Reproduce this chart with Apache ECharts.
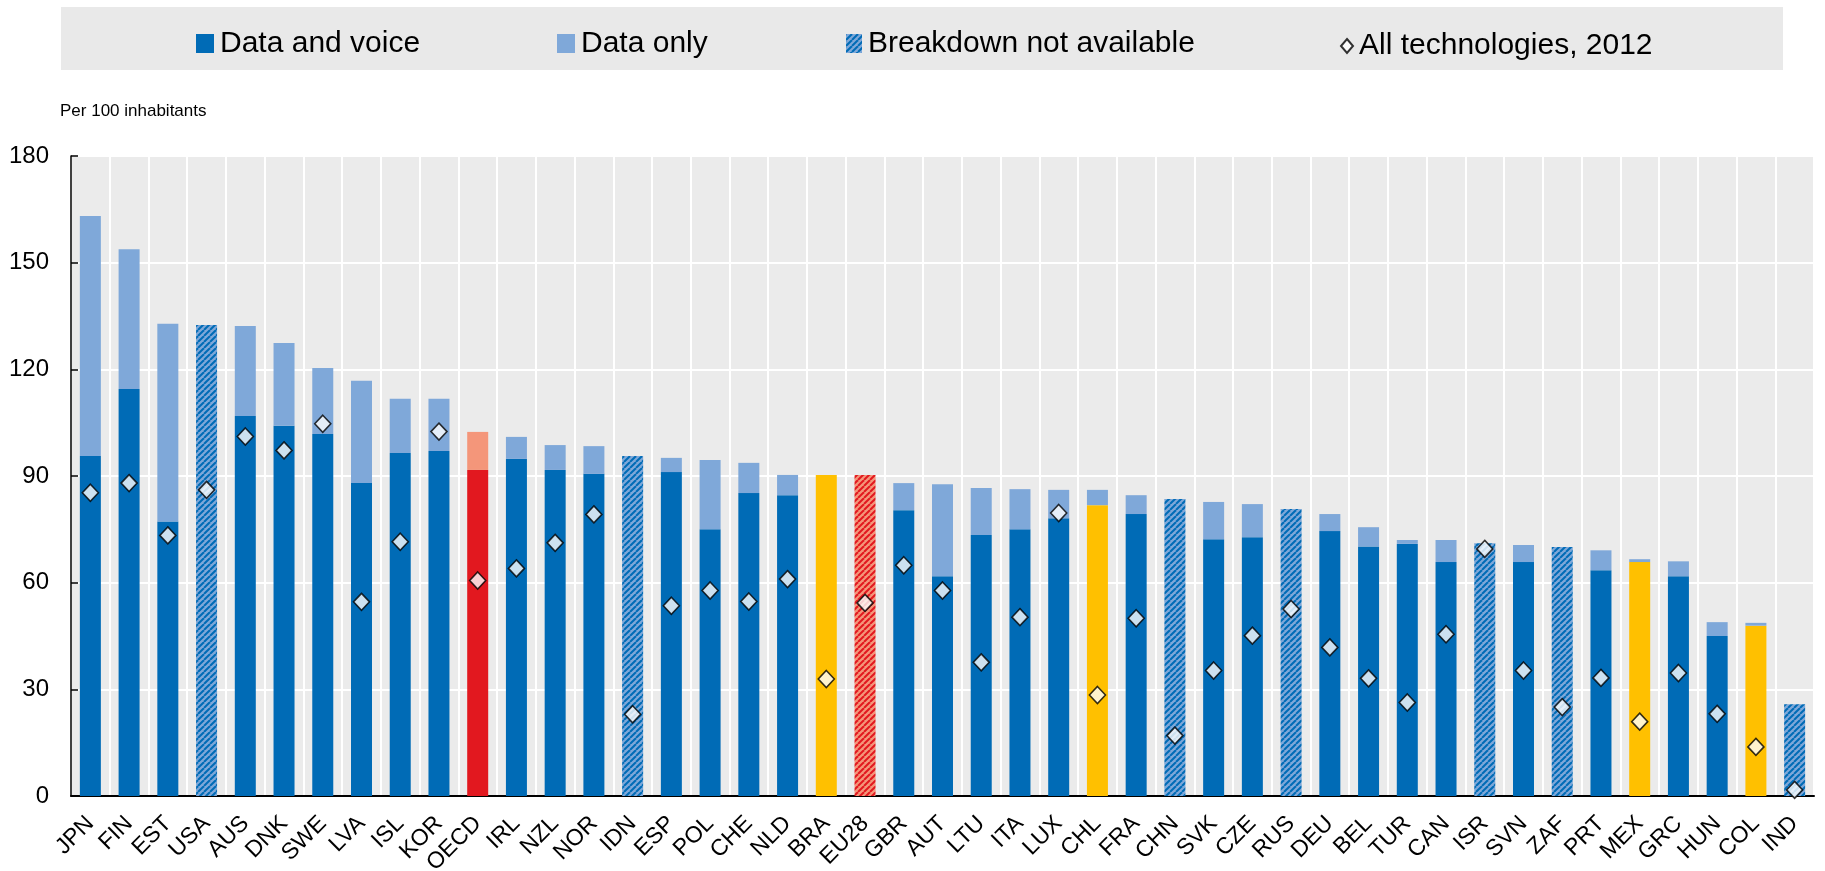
<!DOCTYPE html>
<html>
<head>
<meta charset="utf-8">
<script src="https://cdn.jsdelivr.net/npm/echarts@6/dist/echarts.min.js"></script>
<style>
    html, body { margin: 0; padding: 0; background: #fff; }
    #chart { width: 1825px; height: 871px; }
</style>
</head>
<body>
<div id="chart"></div>
<script>
    // countries, sorted by total
    var countries = ['JPN', 'FIN', 'EST', 'USA', 'AUS', 'DNK', 'SWE', 'LVA', 'ISL', 'KOR', 'OECD', 'IRL', 'NZL', 'NOR', 'IDN',
        'ESP', 'POL', 'CHE', 'NLD', 'BRA', 'EU28', 'GBR', 'AUT', 'LTU', 'ITA', 'LUX', 'CHL', 'FRA', 'CHN', 'SVK',
        'CZE', 'RUS', 'DEU', 'BEL', 'TUR', 'CAN', 'ISR', 'SVN', 'ZAF', 'PRT', 'MEX', 'GRC', 'HUN', 'COL', 'IND'];
    // Data and voice
    var dataVoice = [95.6, 114.5, 77.2, null, 106.9, 104.1, 101.8, 88.0, 96.5, 97.0, 91.7, 94.8, 91.7, 90.6, null,
        91.1, 75.0, 85.2, 84.6, 90.3, null, 80.4, 61.8, 73.4, 75.0, 78.1, 81.8, 79.3, null, 72.2,
        72.8, null, 74.5, 70.2, 70.9, 65.8, null, 65.8, null, 63.5, 65.8, 61.8, 45.0, 47.9, null];
    // Data only
    var dataOnly = [67.5, 39.3, 55.6, null, 25.3, 23.3, 18.6, 28.8, 15.2, 14.7, 10.7, 6.2, 7.0, 7.8, null,
        4.0, 19.5, 8.5, 5.7, null, null, 7.6, 25.9, 13.2, 11.3, 8.0, 4.3, 5.3, null, 10.5,
        9.3, null, 4.8, 5.4, 1.1, 6.2, null, 4.8, null, 5.6, 0.8, 4.2, 3.9, 0.8, null];
    // Breakdown not available
    var noBreakdown = [null, null, null, 132.5, null, null, null, null, null, null, null, null, null, null, 95.6,
        null, null, null, null, null, 90.3, null, null, null, null, null, null, null, 83.5, null,
        null, 80.7, null, null, null, null, 71.1, null, 70.0, null, null, null, null, null, 25.8];
    // All technologies, 2012
    var allTech2012 = [85.3, 88.0, 73.3, 86.1, 101.1, 97.2, 104.7, 54.6, 71.5, 102.5, 60.6, 64.0, 71.2, 79.2, 23.0,
        53.5, 57.8, 54.7, 61.0, 32.9, 54.3, 64.9, 57.8, 37.6, 50.3, 79.6, 28.4, 50.0, 17.0, 35.3,
        45.1, 52.6, 41.8, 33.1, 26.3, 45.5, 69.5, 35.3, 25.0, 33.2, 20.9, 34.6, 23.1, 13.8, 1.7];

    var partners = ['BRA', 'CHL', 'MEX', 'COL'];

    var fontName = '"Liberation Sans", Arial, sans-serif';

    //斜线填充
    function stripes(c1, c2) {
        var cv = document.createElement('canvas');
        cv.width = 6;
        cv.height = 6;
        var ctx = cv.getContext('2d');
        ctx.fillStyle = c2;
        ctx.fillRect(0, 0, 6, 6);
        ctx.strokeStyle = c1;
        ctx.lineWidth = 2;
        for (var k = -6; k <= 6; k += 6) {
            ctx.beginPath();
            ctx.moveTo(k, 6);
            ctx.lineTo(k + 6, 0);
            ctx.stroke();
        }
        return {image: cv, repeat: 'repeat'};
    }

    var blueHatch = stripes('#006BB6', '#7FA8D9');
    var redHatch = stripes('#E2181F', '#F4967A');

    var darkItems = dataVoice.map(function (v, i) {
        var c = countries[i];
        if (c === 'OECD') return {value: v, itemStyle: {color: '#E2181F'}};
        if (partners.indexOf(c) >= 0) return {value: v, itemStyle: {color: '#FFC000'}};
        return v;
    });
    var lightItems = dataOnly.map(function (v, i) {
        if (countries[i] === 'OECD') return {value: v, itemStyle: {color: '#F4967A'}};
        return v;
    });
    var hatchItems = noBreakdown.map(function (v, i) {
        if (countries[i] === 'EU28') return {value: v, itemStyle: {color: redHatch}};
        return v;
    });

    //图例，每项单独定位
    function legendItem(name, icon, left, w, h) {
        return {
            top: 38 - h / 2,
            left: left,
            padding: 0,
            itemWidth: w,
            itemHeight: h,
            textStyle: {fontSize: 30, color: '#000', fontFamily: fontName, padding: [0, 0, 0, 1]},
            data: [{name: name, icon: icon}]
        };
    }

    var myChart = echarts.init(document.getElementById('chart'));
    myChart.setOption({
        animation: false,
        textStyle: {fontFamily: fontName},
        graphic: [
            {
                type: 'rect',
                left: 61, top: 7,
                shape: {width: 1722, height: 63},
                style: {fill: '#E9E9E9'},
                z: -1
            },
            {
                type: 'text',
                left: 60, top: 103,
                style: {text: 'Per 100 inhabitants', fontSize: 17, fontFamily: fontName, fill: '#000'}
            }
        ],
        legend: [
            legendItem('Data and voice', 'rect', 196, 18, 19),
            legendItem('Data only', 'rect', 557, 18, 19),
            legendItem('Breakdown not available', 'rect', 846, 16, 19),
            legendItem('All technologies, 2012', 'diamond', 1340, 12, 14)
        ],
        grid: {
            left: 71, right: 11, top: 156, bottom: 75,
            outerBoundsMode: 'none',
            containLabel: false,
            show: true,
            backgroundColor: '#EBEBEB',
            borderWidth: 0
        },
        xAxis: {
            type: 'category',
            data: countries,
            axisLine: {lineStyle: {color: '#000', width: 2}},
            axisTick: {inside: true, length: 7, lineStyle: {color: '#000', width: 1.5}},
            splitLine: {show: true, interval: 0, lineStyle: {color: '#fff', width: 2}},
            axisLabel: {
                interval: 0,
                rotate: 45,
                margin: 24,
                fontSize: 23,
                color: '#000',
                fontFamily: fontName
            }
        },
        yAxis: {
            type: 'value',
            min: 0, max: 180, interval: 30,
            axisLine: {show: true, lineStyle: {color: '#000', width: 1.5}},
            axisTick: {show: true, inside: true, length: 7, lineStyle: {color: '#000', width: 1.5}},
            splitLine: {lineStyle: {color: '#fff', width: 2}},
            axisLabel: {fontSize: 24, color: '#000', margin: 22, fontFamily: fontName}
        },
        series: [
            {
                name: 'Data and voice',
                type: 'bar',
                stack: 'total',
                barWidth: 21,
                itemStyle: {color: '#006BB6'},
                data: darkItems
            },
            {
                name: 'Data only',
                type: 'bar',
                stack: 'total',
                barWidth: 21,
                itemStyle: {color: '#7FA8D9'},
                data: lightItems
            },
            {
                name: 'Breakdown not available',
                type: 'bar',
                stack: 'total',
                barWidth: 21,
                itemStyle: {color: blueHatch},
                data: hatchItems
            },
            {
                name: 'All technologies, 2012',
                type: 'scatter',
                symbol: 'diamond',
                symbolSize: [16, 17],
                z: 5,
                itemStyle: {
                    color: '#fff',
                    borderColor: '#000',
                    borderWidth: 1.6
                },
                data: allTech2012
            }
        ]
    });
</script>
</body>
</html>
